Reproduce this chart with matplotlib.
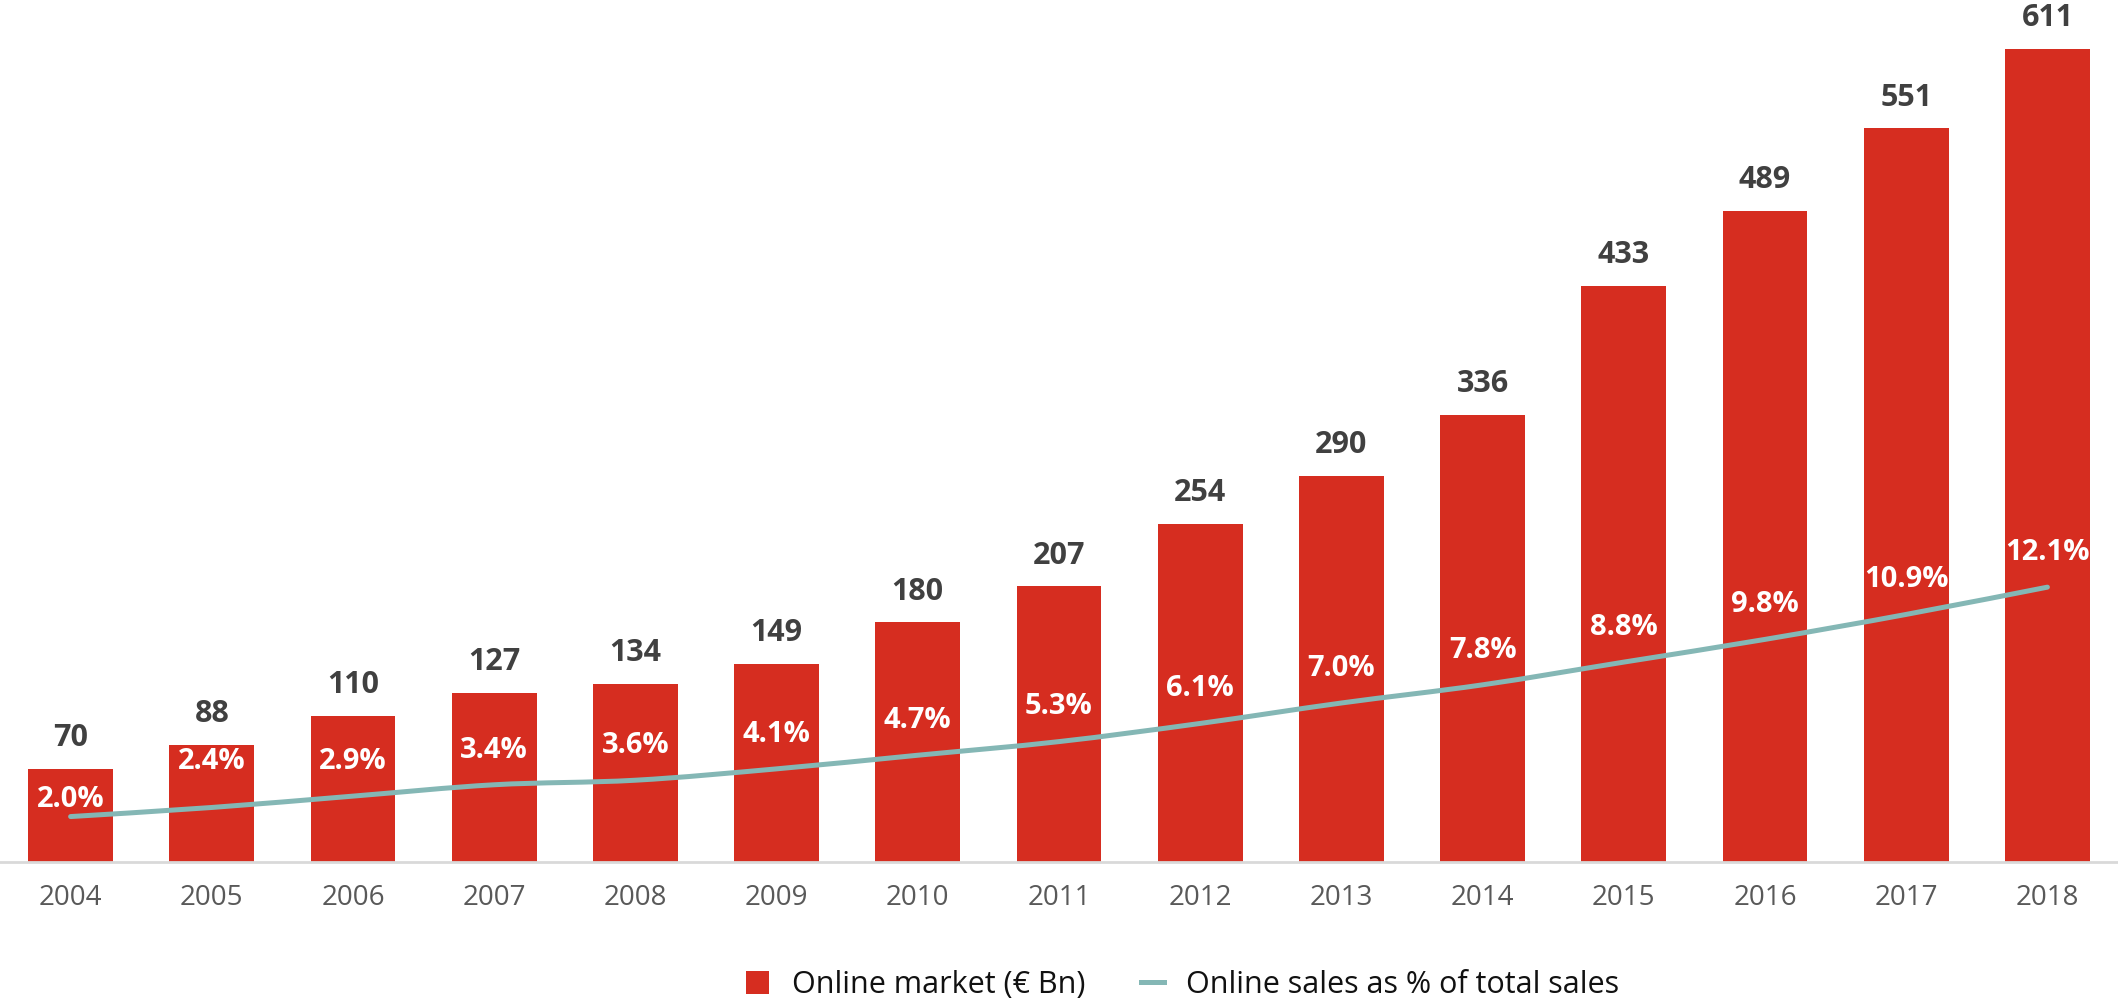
import numpy as np
import matplotlib
matplotlib.use("Agg")
import matplotlib.pyplot as plt
from matplotlib.path import Path
from matplotlib.patches import PathPatch
from matplotlib.lines import Line2D
from matplotlib.patches import Patch

# Datos
years = ["2004", "2005", "2006", "2007", "2008", "2009", "2010", "2011",
         "2012", "2013", "2014", "2015", "2016", "2017", "2018"]
market = [70, 88, 110, 127, 134, 149, 180, 207, 254, 290, 336, 433, 489, 551, 611]
share = [2.0, 2.4, 2.9, 3.4, 3.6, 4.1, 4.7, 5.3, 6.1, 7.0, 7.8, 8.8, 9.8, 10.9, 12.1]

bar_color = "#D62D20"
line_color = "#84B7B5"

plt.rcParams["font.family"] = ["Open Sans", "DejaVu Sans"]

w, h = 21.18, 10.05
fig = plt.figure(figsize=(w, h), dpi=100)
ax = fig.add_axes([0.0, 0.1423, 1.0, 0.8577])
ax2 = ax.twinx()

x = np.arange(len(years))

# Barras del mercado online
ax.bar(x, market, width=0.6, color=bar_color, zorder=2)
for xi, v in zip(x, market):
    ax.annotate(f"{v}", (xi, v), xytext=(0, 22), textcoords="offset points",
                ha="center", va="center", fontsize=22, fontweight="bold",
                color="#404040")

ax.set_xlim(-0.5, len(years) - 0.5)
ax.set_ylim(0, 647.5)
ax2.set_ylim(0, 37.95)

# Línea suavizada (Bezier tipo Catmull-Rom) del % de ventas
pts = np.column_stack([x, share]).astype(float)
verts = [tuple(pts[0])]
codes = [Path.MOVETO]
t = 1.0 / 6.0
for i in range(len(pts) - 1):
    p0 = pts[i - 1] if i > 0 else pts[i]
    p1, p2 = pts[i], pts[i + 1]
    p3 = pts[i + 2] if i + 2 < len(pts) else pts[i + 1]
    c1 = p1 + (p2 - p0) * t
    c2 = p2 - (p3 - p1) * t
    verts += [tuple(c1), tuple(c2), tuple(p2)]
    codes += [Path.CURVE4] * 3
ax2.add_patch(PathPatch(Path(verts, codes), facecolor="none",
                        edgecolor=line_color, linewidth=3.6,
                        capstyle="round", zorder=3))

# Etiquetas de porcentaje
offsets = {0: 12, 1: 33}
for i, (xi, v) in enumerate(zip(x, share)):
    ax2.annotate(f"{v:.1f}%", (xi, v), xytext=(0, offsets.get(i, 25)),
                 textcoords="offset points", ha="center", va="center",
                 fontsize=21, fontweight="bold", color="white", zorder=4)

# Ejes
for a in (ax, ax2):
    for s in a.spines.values():
        s.set_visible(False)
    a.set_yticks([])
ax.spines["bottom"].set_visible(True)
ax.spines["bottom"].set_color("#D9D9D9")
ax.spines["bottom"].set_linewidth(2)
ax.set_xticks(x)
ax.set_xticklabels(years, fontsize=20, color="#595959")
ax.tick_params(axis="x", length=0, pad=16)

# Leyenda
handles = [Patch(facecolor=bar_color, edgecolor="none"),
           Line2D([0], [0], color=line_color, linewidth=3.6)]
fig.legend(handles, ["Online market (€ Bn)", "Online sales as % of total sales"],
           loc="center", bbox_to_anchor=(1183 / 2118, 20 / 1005), ncol=2,
           frameon=False, fontsize=22, handlelength=0.75, handleheight=0.75,
           columnspacing=1.8, handletextpad=0.75, labelcolor="#111111")

fig.savefig("out.png", dpi=100)
